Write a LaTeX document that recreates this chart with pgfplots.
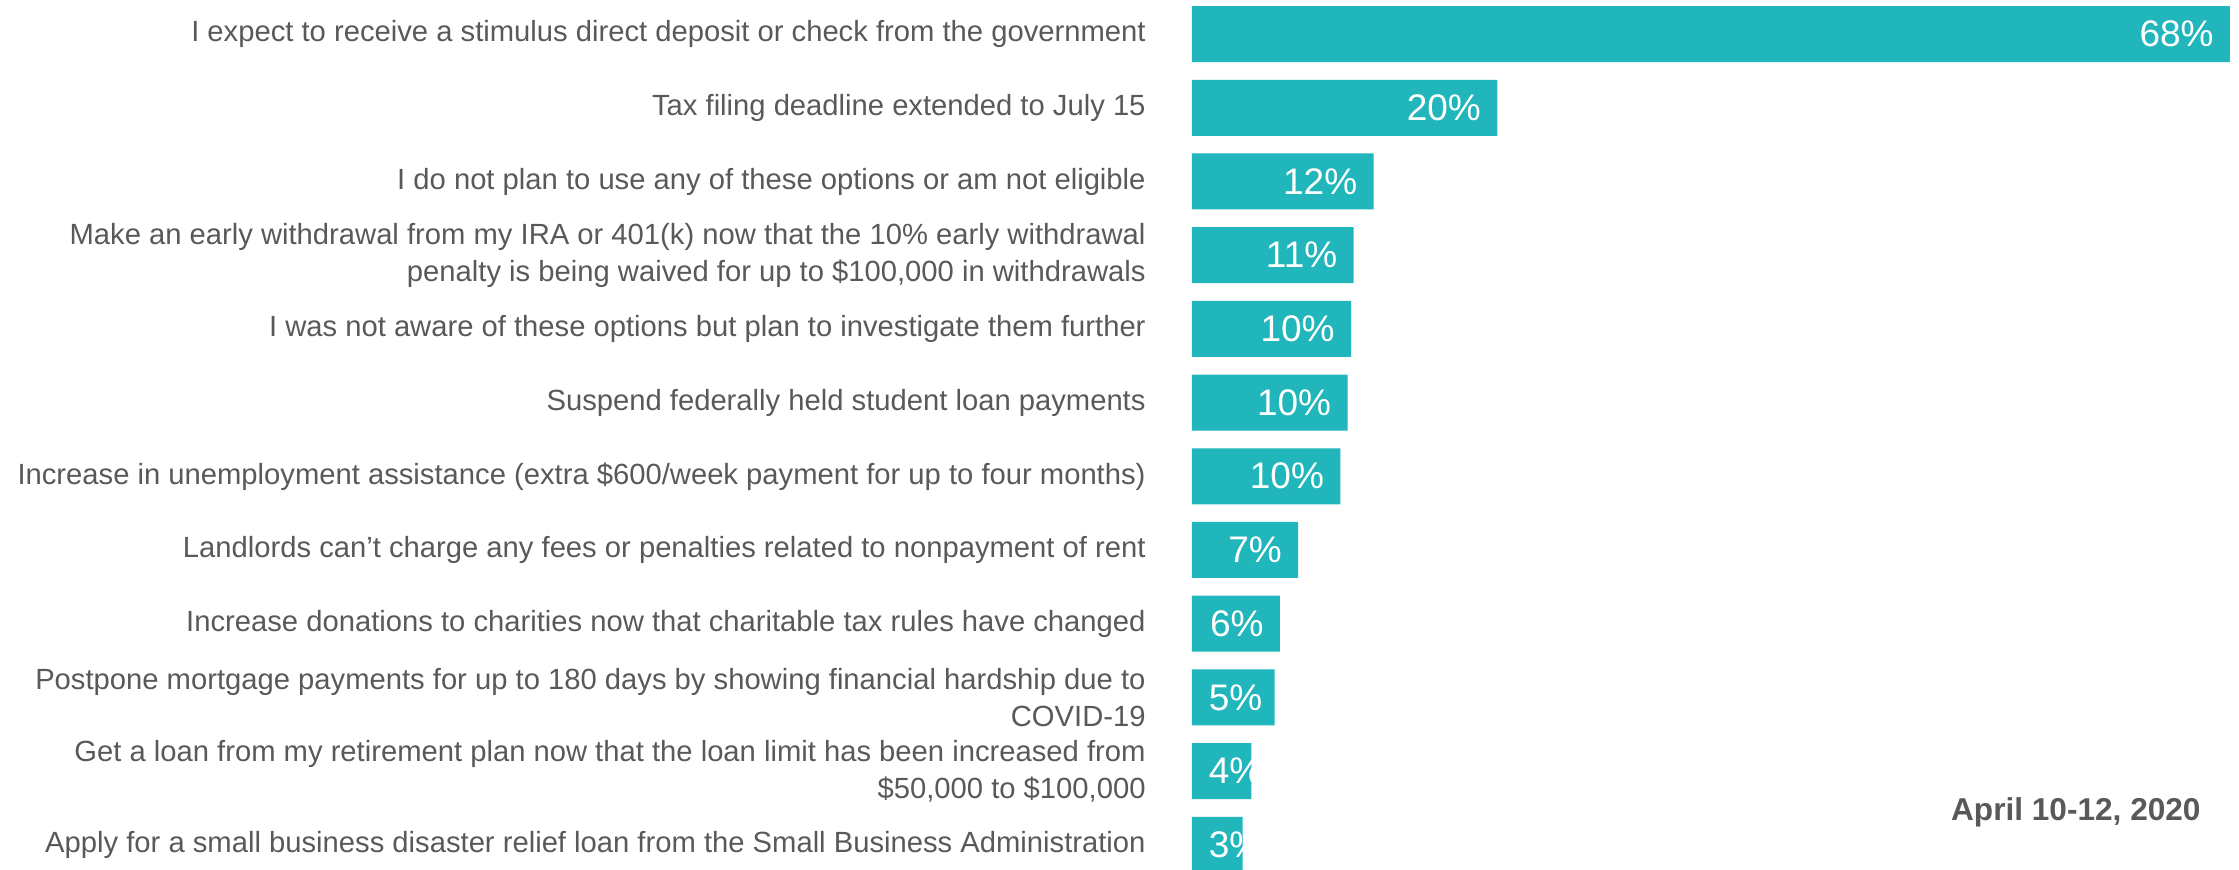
\documentclass[border=0pt]{standalone}
\usepackage{pgfplots}
\pgfplotsset{compat=1.18}
\usepackage{fontspec}
\setmainfont{Liberation Sans}
\definecolor{barteal}{RGB}{33,182,187}
\definecolor{txtgray}{RGB}{89,89,89}
\begin{document}
\begin{tikzpicture}
\begin{axis}[
  scale only axis, width=519pt, height=442.2pt,
  xmin=0, xmax=68, ymin=-0.5, ymax=11.5, y dir=reverse,
  axis line style={draw=none}, xtick=\empty, ytick={0,...,11},
  major tick length=0pt,
  yticklabels={
    {I expect to receive a stimulus direct deposit or check from the government},
    {Tax filing deadline extended to July 15},
    {I do not plan to use any of these options or am not eligible},
    {Make an early withdrawal from my IRA or 401(k) now that the 10\% early withdrawal\\penalty is being waived for up to \$100,000 in withdrawals},
    {I was not aware of these options but plan to investigate them further},
    {Suspend federally held student loan payments},
    {Increase in unemployment assistance (extra \$600/week payment for up to four months)},
    {Landlords can’t charge any fees or penalties related to nonpayment of rent},
    {Increase donations to charities now that charitable tax rules have changed},
    {Postpone mortgage payments for up to 180 days by showing financial hardship due to\\COVID-19},
    {Get a loan from my retirement plan now that the loan limit has been increased from\\\$50,000 to \$100,000},
    {Apply for a small business disaster relief loan from the Small Business Administration}
  },
  yticklabel style={font=\fontsize{14.6}{18.5}\selectfont, text=txtgray, align=right, inner sep=0pt, xshift=-23pt},
  clip=false,
]
\addplot[xbar, bar width=28pt, bar shift=0pt, fill=barteal, draw=none] coordinates {
  (68,0) (20,1) (11.9,2) (10.59,3) (10.42,4) (10.19,5) (9.72,6) (6.96,7) (5.76,8) (5.41,9) (3.89,10) (3.32,11)
};
\addplot[draw=none, mark=none, point meta=explicit symbolic, nodes near coords,
  nodes near coords style={anchor=east, xshift=-8pt, inner sep=0pt, text=white, font=\fontsize{18.5}{20}\selectfont}]
  coordinates {
  (68,0) [68\%] (20,1) [20\%] (11.9,2) [12\%] (10.59,3) [11\%] (10.42,4) [10\%] (10.19,5) [10\%] (9.72,6) [10\%] (6.96,7) [7\%] (5.76,8) [6\%]
};
\addplot[draw=none, mark=none, point meta=explicit symbolic, nodes near coords,
  nodes near coords style={anchor=west, xshift=8.2pt, inner sep=0pt, text=white, font=\fontsize{18.5}{20}\selectfont}]
  coordinates {
  (0,9) [5\%] (0,10) [4\%] (0,11) [3\%]
};
\end{axis}
\node[anchor=base east, font=\fontsize{15.8}{19}\selectfont\bfseries, text=txtgray, inner sep=0pt] at (504.5pt,30.8pt) {April 10-12, 2020};
\pgfresetboundingbox
\useasboundingbox (-596pt,6.3pt) rectangle (523.5pt,440.8pt);
\end{tikzpicture}
\end{document}
